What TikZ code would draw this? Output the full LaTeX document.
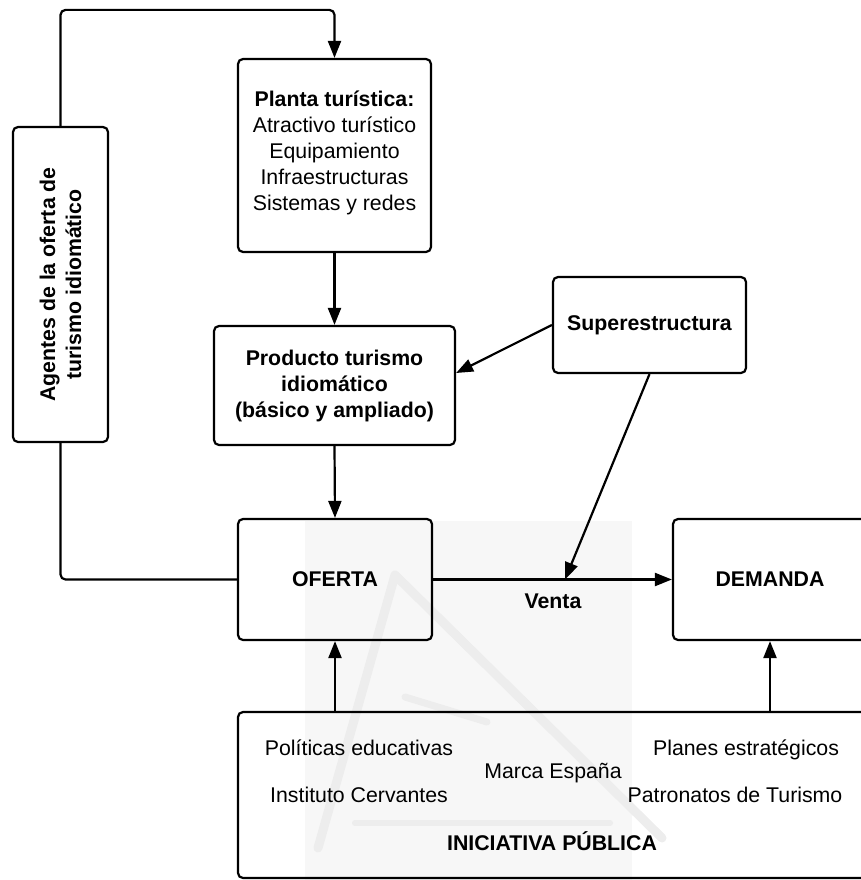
\documentclass[tikz,border=0pt]{standalone}
\usepackage{fontspec}
\setmainfont{Liberation Sans}
\usetikzlibrary{arrows.meta}
\newcommand\diagfont{\fontsize{21.3}{26}\selectfont}

\begin{document}
\begin{tikzpicture}[x=1pt,y=-1pt,
  box/.style={draw, line width=2.2pt, rounded corners=5pt, align=center,
              inner sep=0pt, font=\diagfont},
  boldbox/.style={box, font=\diagfont\bfseries},
  conn/.style={line width=2.2pt, rounded corners=5pt},
  arr/.style={conn, -{Triangle[length=17pt,width=13pt]}},
  txt/.style={font=\diagfont, inner sep=0pt, anchor=base},
  boldtxt/.style={txt, font=\diagfont\bfseries},
  logostroke/.style={black!7, line join=round, line cap=round}
]
\useasboundingbox (0,0) rectangle (861,880);

% faint background logo
\fill[black!3] (305,521) rectangle (632,880);
\draw[logostroke, line width=9pt] (318,848) -- (395,575) -- (662,838);
\draw[logostroke, line width=7pt] (405,697) -- (487,722);
\draw[logostroke, line width=6pt] (355,823) -- (610,823);

% boxes
\node[box, minimum width=95pt, minimum height=315pt] (agentes) at (60.5,284.5) {};
\node[boldtxt, anchor=center, rotate=90, align=center] (agentesText) at (agentes.center)
  {Agentes de la oferta de\\turismo idiomático};

\node[box, minimum width=193pt, minimum height=193pt] (planta) at (334.5,155.5) {};
\node[txt, anchor=center, align=center] (plantaText) at (334.5,153)
  {\textbf{Planta turística:}\\Atractivo turístico\\Equipamiento\\Infraestructuras\\Sistemas y redes};

\node[boldbox, minimum width=241pt, minimum height=119pt] (producto) at (334.5,385.5)
  {Producto turismo\\idiomático\\(básico y ampliado)};

\node[boldbox, minimum width=193pt, minimum height=96pt] (super) at (649.5,325)
  {Superestructura};

\node[boldbox, minimum width=194pt, minimum height=121pt] (oferta) at (335,579.5) {OFERTA};
\node[boldbox, minimum width=194pt, minimum height=121pt] (demanda) at (770,579.5) {DEMANDA};

\node[box, minimum width=628pt, minimum height=166pt] (iniciativa) at (552,795) {};
\node[txt] (pol) at (359,755.5) {Políticas educativas};
\node[txt] (pla) at (746,755.5) {Planes estratégicos};
\node[txt] (mar) at (553,778.5) {Marca España};
\node[txt] (ins) at (359,802.5) {Instituto Cervantes};
\node[txt] (pat) at (735,802.5) {Patronatos de Turismo};
\node[boldtxt] (ini) at (552,850.5) {INICIATIVA PÚBLICA};

% connectors
\coordinate (venta) at (565,579.5);
\draw[arr] (agentes.north) -- ++(0,-116) -| (planta.north);
\draw[conn] (agentes.south) |- (oferta.west);
\draw[arr] (planta.south) -- (producto.north);
\draw[arr] (producto.south) -- (oferta.north);
\draw[arr] (super.west) -- ([yshift=12.5pt]producto.east);
\draw[arr] (super.south) -- (venta);
\draw[arr] (oferta.east) -- (demanda.west);
\node[boldtxt] (ventaLabel) at (553,608.5) {Venta};
\draw[arr] (iniciativa.north -| oferta.south) -- (oferta.south);
\draw[arr] (iniciativa.north -| demanda.south) -- (demanda.south);
\end{tikzpicture}
\end{document}
